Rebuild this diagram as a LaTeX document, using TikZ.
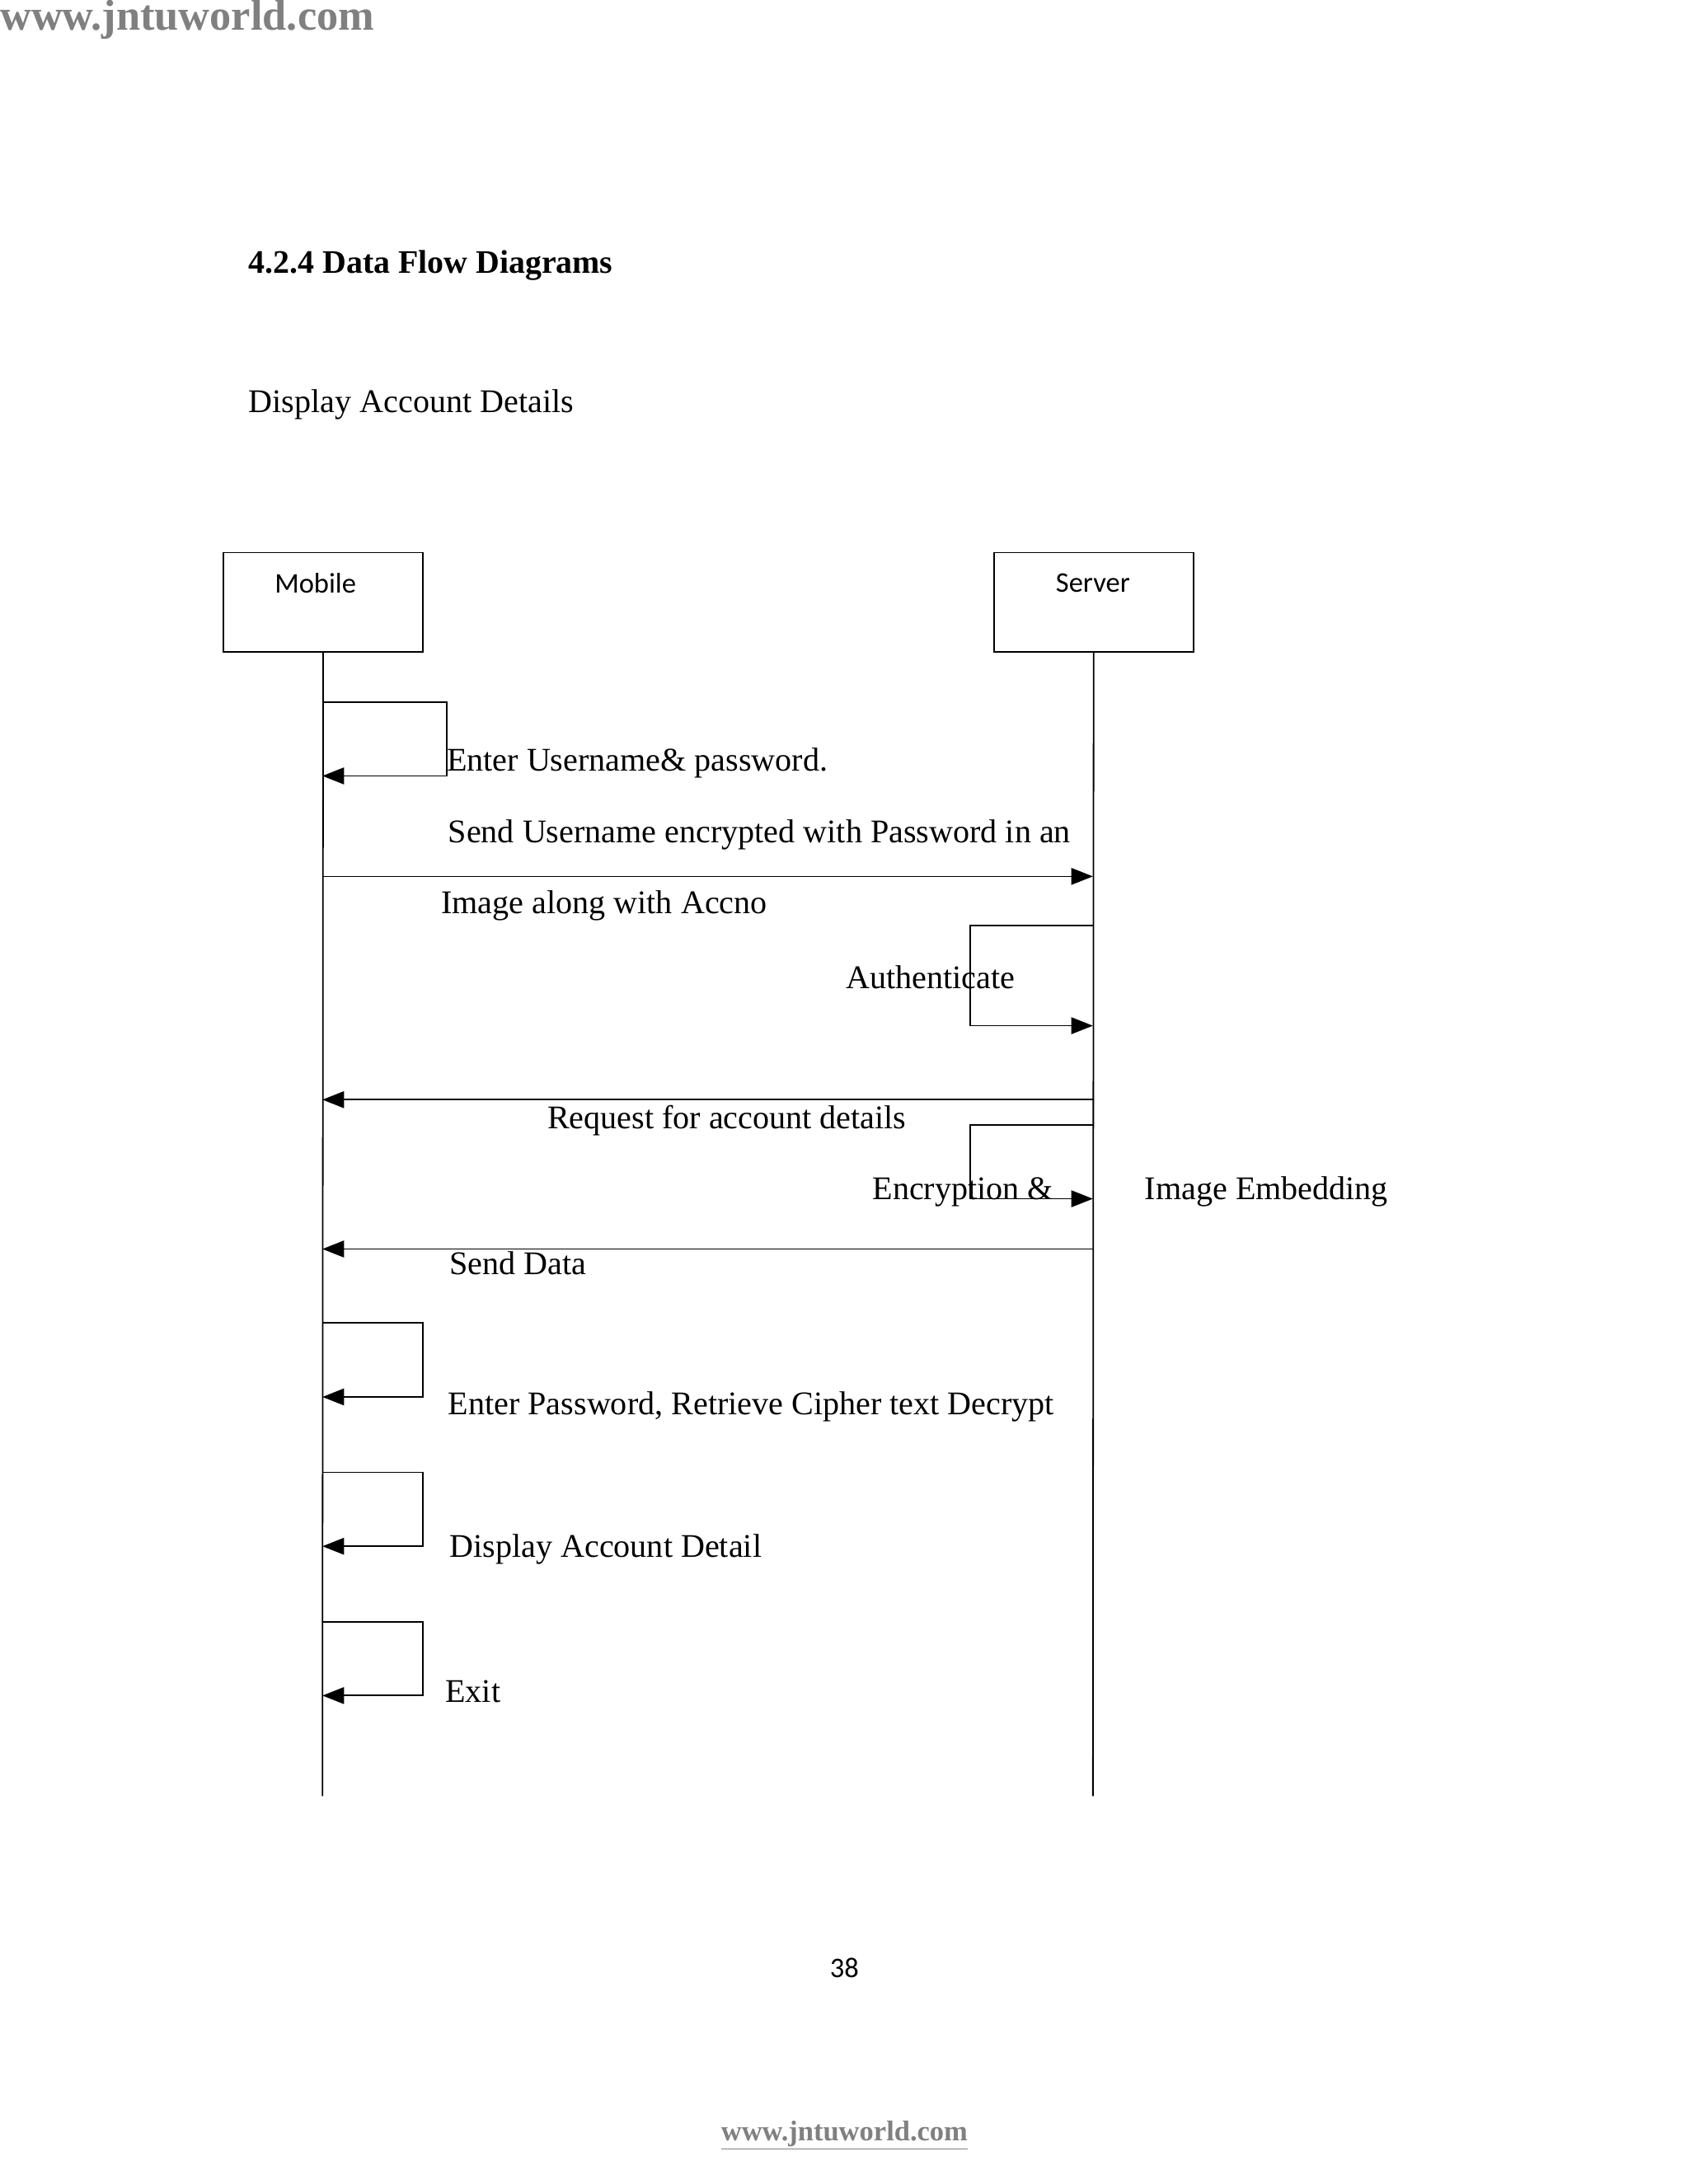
\documentclass[tikz,border=0pt]{standalone}
\usepackage{fontspec}
\setmainfont{Liberation Serif}
\newfontfamily\calib{Carlito}
\usetikzlibrary{arrows.meta}
\begin{document}
\begin{tikzpicture}[x=0.05cm,y=-0.05cm,
  txt/.style={anchor=west,inner sep=0,font=\fontsize{33.7}{40}\selectfont},
  lbl/.style={inner sep=0,font=\calib\fontsize{29}{32}\selectfont},
  msg/.style={line width=1.5pt,-{Triangle[length=22pt,width=17pt]}},
  line/.style={line width=1.5pt},
  box/.style={draw,line width=1.5pt,minimum width=143*0.05cm,minimum height=71*0.05cm,inner sep=0}]
\useasboundingbox (0,0) rectangle (1210,1565);
\node[anchor=west,inner sep=0,text=gray,font=\bfseries\fontsize{44}{48}\selectfont] (hdr) at (0,14) {www.jntuworld.com};
\node[txt,font=\bfseries\fontsize{33.5}{40}\selectfont] (title) at (178,190) {4.2.4 Data Flow Diagrams};
\node[txt] (sub) at (178,290) {Display Account Details};
\node[box] (mob) at (231.5,431.5) {};
\node[box] (srv) at (783.5,431.5) {};
\node[lbl] at (226,418) {Mobile};
\node[lbl] at (783,418) {Server};
\coordinate (mEnd) at (231,1287); \coordinate (sEnd) at (783,1287);
\draw[line] (mob.south) -- (mEnd);
\draw[line] (srv.south) -- (sEnd);
\draw[msg] (231,503) -- (320,503) -- (320,556) -- (231,556);
\node[txt] at (320,547) {Enter Username\& password.};
\node[txt] at (321,598) {Send Username encrypted with Password in an};
\draw[msg] (231,628) -- (783,628);
\node[txt] at (316,649) {Image along with Accno};
\draw[msg] (783,663) -- (695,663) -- (695,735) -- (783,735);
\node[txt] at (606,700) {Authenticate};
\draw[msg] (783,788) -- (231,788);
\node[txt] at (392,803) {Request for account details};
\draw[msg] (783,806) -- (695,806) -- (695,859) -- (783,859);
\node[txt] at (625,854) {Encryption \&};
\node[txt] at (820,854) {Image Embedding};
\draw[msg] (783,895) -- (231,895);
\node[txt] at (322,905) {Send Data};
\draw[msg] (231,948) -- (303,948) -- (303,1001) -- (231,1001);
\node[txt] at (321,1008) {Enter Password, Retrieve Cipher text Decrypt};
\draw[msg] (231,1055) -- (303,1055) -- (303,1108) -- (231,1108);
\node[txt] at (322,1110) {Display Account Detail};
\draw[msg] (231,1162) -- (303,1162) -- (303,1215) -- (231,1215);
\node[txt] at (319,1212) {Exit};
\node[lbl] (pg) at (605,1410) {38};
\node[inner sep=0,text=gray,font=\bfseries\fontsize{29}{34}\selectfont] (ftr) at (605,1530) {\underline{www.jntuworld.com}};
\end{tikzpicture}
\end{document}
